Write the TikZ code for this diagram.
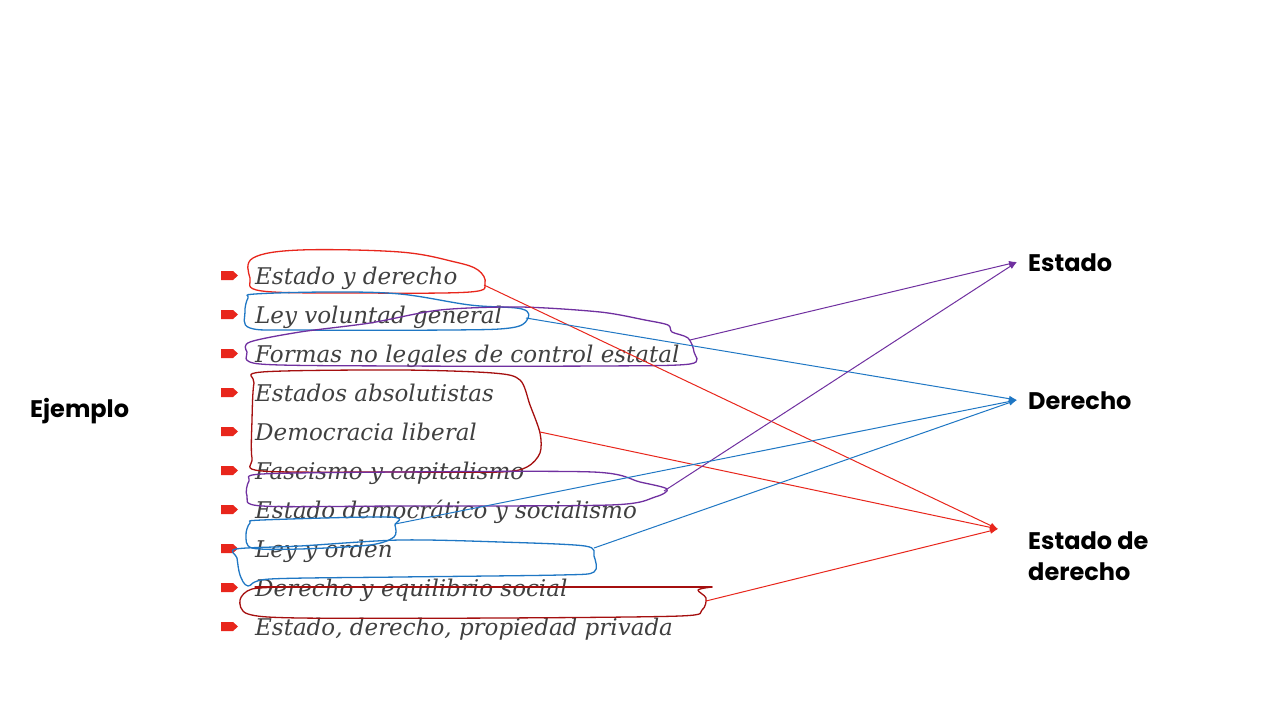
\documentclass[tikz,border=0pt]{standalone}
\usepackage{fontspec}
\setmainfont{DejaVu Serif}
\newfontfamily\headfont{Poppins}
\usetikzlibrary{arrows.meta}
\definecolor{cred}{HTML}{E8261C}
\definecolor{dred}{HTML}{A50F0F}
\definecolor{cblue}{HTML}{1F77C4}
\definecolor{cpurp}{HTML}{7030A0}
\definecolor{ctext}{HTML}{404040}
\begin{document}
\begin{tikzpicture}[x=1pt,y=-1pt,
  item/.style={anchor=base west, font=\fontsize{23}{26}\selectfont\itshape, text=ctext, inner sep=0pt},
  lbl/.style={anchor=west, font=\headfont\bfseries\fontsize{24}{31}\selectfont, text=black, inner sep=0pt, align=left},
  bul/.style={fill=cred, draw=none},
  hand/.style={line width=1.3pt, line join=round, line cap=round},
  conn/.style={-{Latex[length=8pt,width=6pt]}, line width=1pt}
]
\useasboundingbox[fill=white] (0,0) rectangle (1280,720);

% list items
\foreach \t [count=\i from 0] in {Estado y derecho, Ley voluntad general, Formas no legales de control estatal, Estados absolutistas, Democracia liberal, Fascismo y capitalismo, Estado democrático y socialismo, Ley y orden, Derecho y equilibrio social, {Estado, derecho, propiedad privada}}{
  \node[item] (it\i) at (255,{284+39*\i}) {\t};
  \fill[bul] (221,{271+39*\i}) -- (233,{271+39*\i}) -- (238,{275.5+39*\i}) -- (233,{280+39*\i}) -- (221,{280+39*\i}) -- cycle;
}

% left / right labels
\node[lbl] (ej) at (30,411) {Ejemplo};
\node[lbl] (estado) at (1028,263) {Estado};
\node[lbl] (derecho) at (1028,401) {Derecho};
\node[lbl] (sed) at (1028,556) {Estado de\\derecho};

\coordinate (tEstado) at (1017,262);
\coordinate (tDerecho) at (1017,400);
\coordinate (tSed) at (998,529);

% hand-drawn loops
\draw[hand, cred] plot[smooth cycle, tension=0.6] coordinates {(300,250) (400,252) (455,262) (478,270) (485,283) (470,292) (360,293) (262,291) (250,278) (253,258)};
\draw[hand, cblue] plot[smooth cycle, tension=0.6] coordinates {(255,294) (330,292) (400,294) (470,305) (522,309) (527,320) (510,328) (450,330) (300,330) (250,328) (245,312) (248,298)};
\draw[hand, cpurp] plot[smooth cycle, tension=0.5] coordinates {(250,342) (300,332) (370,323) (440,310) (520,307) (600,312) (645,320) (668,325) (672,332) (688,338) (694,352) (690,364) (600,366) (400,366) (260,364) (247,352)};
\draw[hand, dred] plot[smooth cycle, tension=0.5] coordinates {(262,372) (400,370) (493,373) (520,380) (530,405) (540,433) (540,453) (527,467) (500,472) (400,472) (262,471) (252,458) (252,420) (254,383)};
\draw[hand, cpurp] plot[smooth cycle, tension=0.5] coordinates {(262,474) (400,472) (593,472) (640,482) (667,489) (655,497) (610,505) (400,506) (262,506) (247,496) (249,481)};
\draw[hand, cblue] plot[smooth cycle, tension=0.5] coordinates {(262,520) (390,517) (395,525) (394,537) (370,545) (300,549) (252,548) (246,535) (250,523)};
\draw[hand, cblue] plot[smooth cycle, tension=0.5] coordinates {(236,549) (300,546) (400,540) (500,542) (585,546) (594,556) (594,572) (560,575) (400,577) (270,579) (248,586) (240,575) (237,558)};
\draw[hand, dred] (255,587) -- (712,587);
\draw[hand, dred] plot[smooth, tension=0.5] coordinates {(712,587) (698,590) (706,598) (702,610) (680,616) (500,618) (300,618) (248,614) (240,600) (252,589) (290,587)};

% connector start points on the loops
\coordinate (c1) at (484,285);
\coordinate (c2) at (526,318);
\coordinate (c3) at (690,340);
\coordinate (c4) at (540,432);
\coordinate (c5) at (664,491);
\coordinate (c6) at (395,524);
\coordinate (c7) at (594,548);
\coordinate (c8) at (706,601);

\draw[conn, cred] (c1) -- (tSed);
\draw[conn, cblue] (c2) -- (tDerecho);
\draw[conn, cpurp] (c3) -- (tEstado);
\draw[conn, cred] (c4) -- (tSed);
\draw[conn, cpurp] (c5) -- (tEstado);
\draw[conn, cblue] (c6) -- (tDerecho);
\draw[conn, cblue] (c7) -- (tDerecho);
\draw[conn, cred] (c8) -- (tSed);
\end{tikzpicture}
\end{document}
